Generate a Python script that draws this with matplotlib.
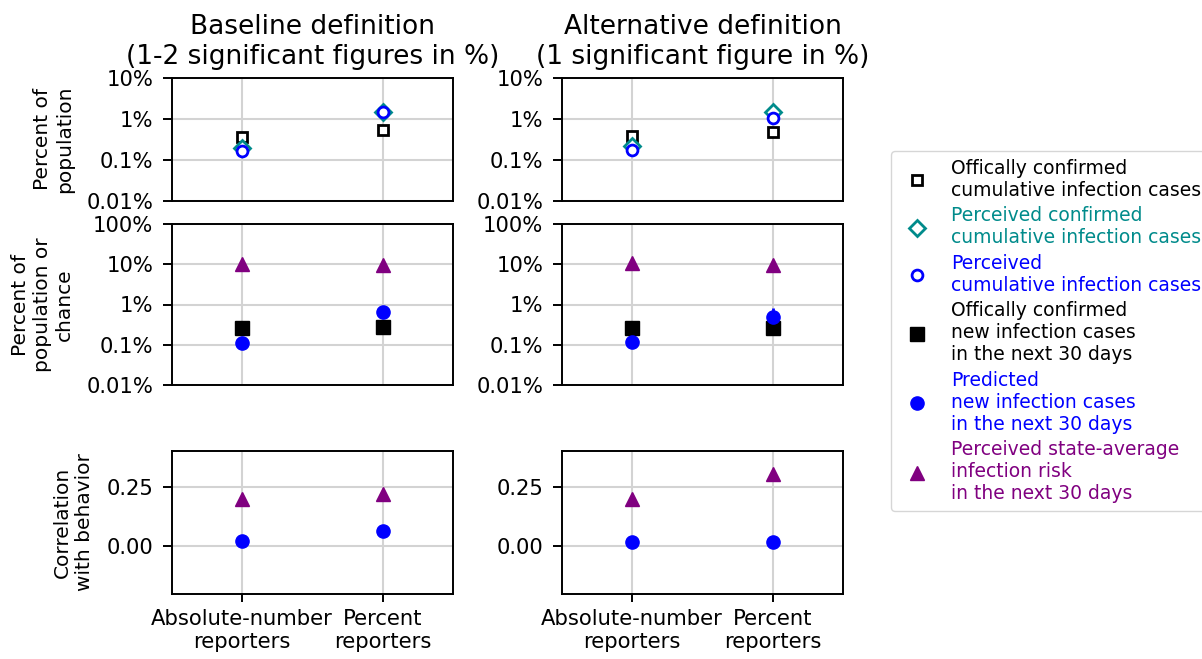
import matplotlib
matplotlib.use("Agg")
import matplotlib.pyplot as plt
from matplotlib.ticker import FixedLocator, FixedFormatter, NullLocator

# Reporter groups (x axis)
groups = ["Absolute-number\nreporters", "Percent\nreporters"]

# Cumulative infection cases, % of population  [baseline, alternative]
official_cum = [[0.37, 0.54], [0.38, 0.47]]
perceived_conf_cum = [[0.20, 1.50], [0.22, 1.50]]
perceived_cum = [[0.166, 1.50], [0.18, 1.03]]

# New infection cases in the next 30 days, % of population or chance
official_new = [[0.26, 0.28], [0.26, 0.26]]
predicted_new = [[0.109, 0.66], [0.119, 0.50]]
predicted_new_lo = [[0.109, 0.66], [0.119, 0.40]]
predicted_new_hi = [[0.109, 0.66], [0.119, 0.80]]
state_risk = [[10.0, 9.6], [10.6, 9.6]]

# Correlation with behavior
corr_predicted = [[0.021, 0.063], [0.019, 0.019]]
corr_state_risk = [[0.197, 0.218], [0.197, 0.305]]

col_titles = ["Baseline definition\n(1-2 significant figures in %)",
              "Alternative definition\n(1 significant figure in %)"]
row_labels = ["Percent of\npopulation",
              "Percent of\npopulation or\nchance",
              "Correlation\nwith behavior"]

series_names = [
    "Offically confirmed\ncumulative infection cases",
    "Perceived confirmed\ncumulative infection cases",
    "Perceived\ncumulative infection cases",
    "Offically confirmed\nnew infection cases\nin the next 30 days",
    "Predicted\nnew infection cases\nin the next 30 days",
    "Perceived state-average\ninfection risk\nin the next 30 days",
]

BLACK, TEAL, BLUE, PURPLE = "black", "#008b8b", "blue", "purple"

plt.rcParams["font.family"] = "DejaVu Sans"
FS_TICK = 15.2
FS_LABEL = 14.5
FS_LEG = 13.5
FS_TITLE = 19

fig = plt.figure(figsize=(12.02, 6.59), dpi=100)
W, H = 1202.0, 659.0
lefts = [172, 562]
width = 281
rows = [(78, 201), (224, 385), (451, 594)]

axes = [[None, None] for _ in range(3)]
for r, (top, bot) in enumerate(rows):
    for c, lx in enumerate(lefts):
        axes[r][c] = fig.add_axes([lx / W, 1 - bot / H, width / W, (bot - top) / H])

x = list(range(len(groups)))
open_kw = dict(linestyle="none", markerfacecolor="white", markeredgewidth=2)
fill_kw = dict(linestyle="none")

handles = []
for c in range(2):
    ax = axes[0][c]
    h1, = ax.plot(x, official_cum[c], marker="s", color=BLACK, markersize=7.8, **open_kw)
    h2, = ax.plot(x, perceived_conf_cum[c], marker="D", color=TEAL, markersize=7.8, **open_kw)
    h3, = ax.plot(x, perceived_cum[c], marker="o", color=BLUE, markersize=7.8, **open_kw)
    ax.set_yscale("log")
    ax.set_ylim(0.01, 10)
    ticks = [0.01, 0.1, 1, 10]
    ax.yaxis.set_major_locator(FixedLocator(ticks))
    ax.yaxis.set_major_formatter(FixedFormatter(["0.01%", "0.1%", "1%", "10%"]))
    ax.yaxis.set_minor_locator(NullLocator())

    ax = axes[1][c]
    h4, = ax.plot(x, official_new[c], marker="s", color=BLACK, markersize=9.5, **fill_kw)
    err_lo = [v - lo for v, lo in zip(predicted_new[c], predicted_new_lo[c])]
    err_hi = [hi - v for v, hi in zip(predicted_new[c], predicted_new_hi[c])]
    ax.errorbar(x, predicted_new[c], yerr=[err_lo, err_hi], fmt="none", ecolor=BLUE, elinewidth=2)
    h5, = ax.plot(x, predicted_new[c], marker="o", color=BLUE, markersize=9.5, **fill_kw)
    h6, = ax.plot(x, state_risk[c], marker="^", color=PURPLE, markersize=10, **fill_kw)
    ax.set_yscale("log")
    ax.set_ylim(0.01, 100)
    ticks = [0.01, 0.1, 1, 10, 100]
    ax.yaxis.set_major_locator(FixedLocator(ticks))
    ax.yaxis.set_major_formatter(FixedFormatter(["0.01%", "0.1%", "1%", "10%", "100%"]))
    ax.yaxis.set_minor_locator(NullLocator())

    ax = axes[2][c]
    ax.plot(x, corr_predicted[c], marker="o", color=BLUE, markersize=9.5, **fill_kw)
    ax.plot(x, corr_state_risk[c], marker="^", color=PURPLE, markersize=10, **fill_kw)
    ax.set_ylim(-0.2, 0.4)
    ax.set_yticks([0.0, 0.25])
    ax.set_yticklabels(["0.00", "0.25"])
    handles = [h1, h2, h3, h4, h5, h6]

for r in range(3):
    for c in range(2):
        ax = axes[r][c]
        ax.set_xlim(-0.5, 1.5)
        ax.set_xticks(x)
        ax.grid(True, color="#d3d3d3", linewidth=1.5)
        ax.set_axisbelow(True)
        for s in ax.spines.values():
            s.set_linewidth(1.4)
        ax.tick_params(axis="y", labelsize=FS_TICK, width=1.4, length=6.5, pad=7)
        ax.tick_params(axis="x", labelsize=FS_TICK, width=1.4, length=6, pad=5)
        if r < 2:
            ax.tick_params(axis="x", length=0, labelbottom=False)
        else:
            ax.set_xticklabels(groups, fontsize=FS_TICK)
    axes[r][0].set_ylabel(row_labels[r], fontsize=FS_LABEL, labelpad=9)

for c in range(2):
    axes[0][c].set_title(col_titles[c], fontsize=FS_TITLE, pad=10)

leg = fig.legend(handles, series_names, loc="center left",
                 bbox_to_anchor=(891 / W, 1 - 331 / H), borderaxespad=0,
                 fontsize=FS_LEG, handletextpad=0.8, labelspacing=0.35,
                 borderpad=0.4, handlelength=2.0)
for txt, col in zip(leg.get_texts(), [BLACK, TEAL, BLUE, BLACK, BLUE, PURPLE]):
    txt.set_color(col)

fig.savefig("out.png", dpi=100)
